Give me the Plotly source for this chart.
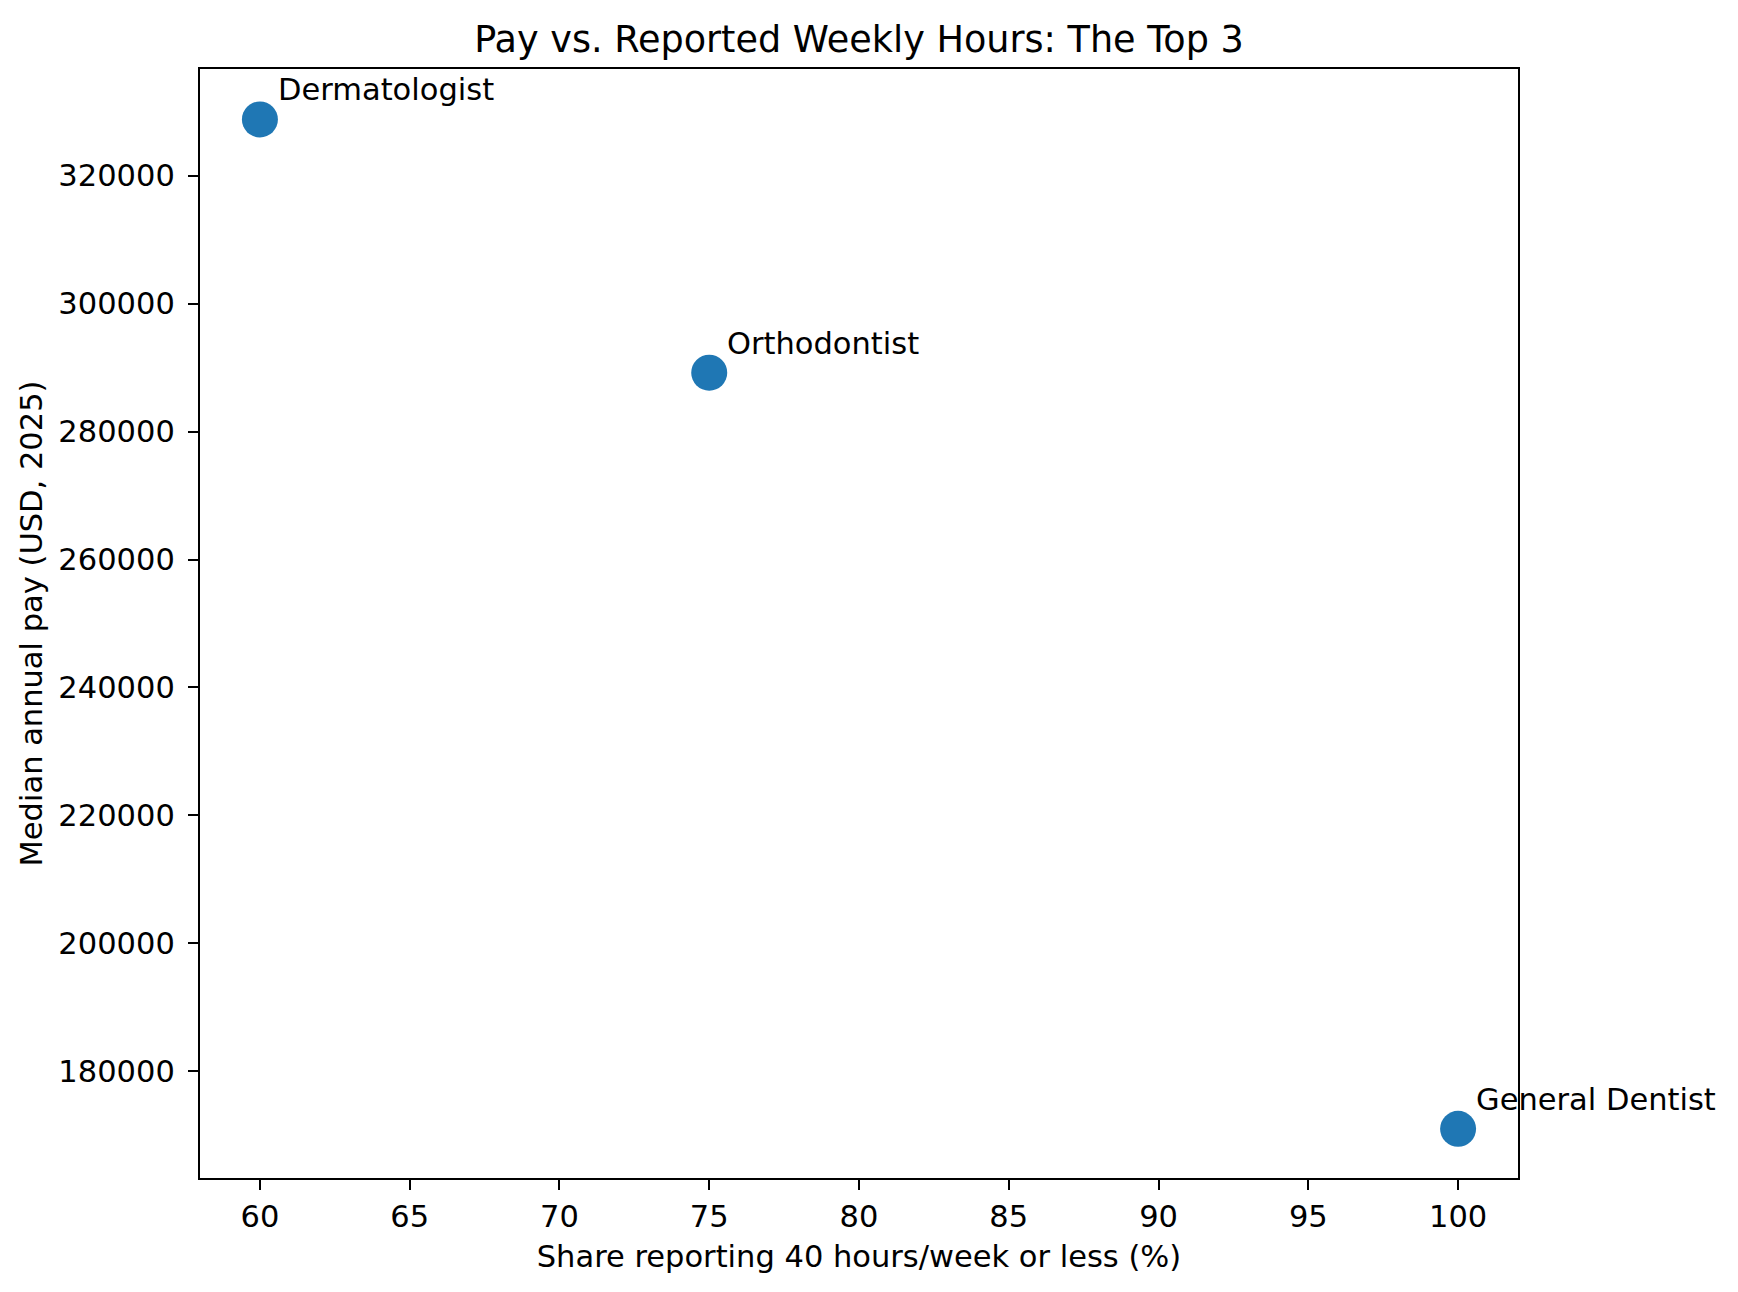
import plotly.graph_objects as go

# values
jobs = ['Dermatologist', 'Orthodontist', 'General Dentist']
share_40h = [60, 75, 100]
median_pay = [328800, 289200, 171000]

x_ticks = [60, 65, 70, 75, 80, 85, 90, 95, 100]
y_ticks = [180000, 200000, 220000, 240000, 260000, 280000, 300000, 320000]

font = 'DejaVu Sans'
fs = 30.5

fig = go.Figure(go.Scatter(
    x=share_40h,
    y=median_pay,
    mode='markers',
    marker=dict(color='#1f77b4', size=36, line=dict(width=0)),
    hovertext=jobs,
    showlegend=False,
))

for name, x, y in zip(jobs, share_40h, median_pay):
    fig.add_annotation(
        x=x, y=y, text=name,
        showarrow=False,
        xanchor='left', yanchor='bottom',
        xshift=16, yshift=10,
        font=dict(family=font, size=fs, color='black'),
    )

axis_style = dict(
    showgrid=False,
    zeroline=False,
    showline=True,
    linecolor='black',
    linewidth=2.2,
    mirror=True,
    ticks='outside',
    ticklen=10,
    tickwidth=2,
    tickcolor='black',
    tickfont=dict(family=font, size=fs, color='black'),
)

fig.update_xaxes(
    range=[58, 102],
    tickvals=x_ticks,
    title=dict(text='Share reporting 40 hours/week or less (%)',
               font=dict(family=font, size=fs, color='black'), standoff=13),
    **axis_style,
)
fig.update_yaxes(
    range=[163320, 336680],
    tickvals=y_ticks,
    ticktext=[str(v) for v in y_ticks],
    ticklabelstandoff=7,
    title=dict(text='Median annual pay (USD, 2025)',
               font=dict(family=font, size=fs, color='black'), standoff=7),
    **axis_style,
)

# the page adds an 8px body margin, so the plot box is pulled up/left by 8
fig.update_layout(
    width=1738,
    height=1292,
    paper_bgcolor='white',
    plot_bgcolor='white',
    margin=dict(l=192, r=228, t=61, b=122),
    title=dict(
        text='Pay vs. Reported Weekly Hours: The Top 3',
        font=dict(family=font, size=36.6, color='black'),
        x=851 / 1738, xanchor='center',
        y=1 - 31 / 1292, yanchor='middle', yref='container',
    ),
)

fig.write_html('out.html')
